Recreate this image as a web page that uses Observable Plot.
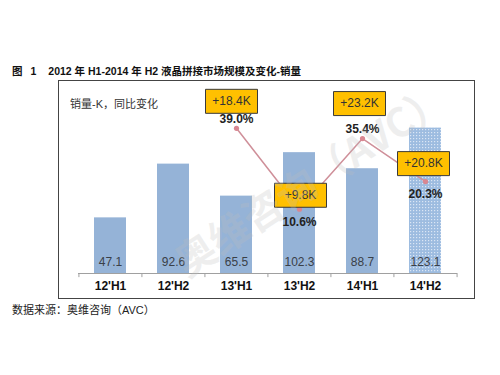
<!DOCTYPE html>
<html><head><meta charset="utf-8">
<script src="https://cdn.jsdelivr.net/npm/d3@7"></script>
<script src="https://cdn.jsdelivr.net/npm/@observablehq/plot@0.6"></script>
<style>
body{margin:0;background:#fff;font-family:"Liberation Sans",Arial,"Noto Sans CJK SC",sans-serif;}
#page{position:relative;width:500px;height:375px;overflow:hidden;}
#title{position:absolute;left:12px;top:63px;font-size:10.5px;font-weight:bold;white-space:pre;color:#111;}
#title .n{margin-left:8px;margin-right:12px;}
#frame{position:absolute;left:58px;top:80px;width:415px;height:217px;border:1px solid #444;}
#frame svg{position:absolute;left:0;top:0;}
#unit{position:absolute;left:11px;top:14px;font-size:11px;color:#333;z-index:2;}
#source{position:absolute;left:12px;top:301px;font-size:11px;color:#222;}
#wm{position:absolute;left:110px;top:153px;width:400px;line-height:50px;text-align:center;font-size:40px;font-weight:bold;color:rgba(190,190,190,0.25);transform:rotate(-33deg);font-family:"Noto Sans CJK SC",sans-serif;pointer-events:none;white-space:nowrap;}
</style></head>
<body><div id="page">
<div id="title">图<span class="n">1</span>2012 年 H1-2014 年 H2 液晶拼接市场规模及变化-销量</div>
<div id="frame"><div id="unit">销量-K，同比变化</div></div>
<div id="source">数据来源：奥维咨询（AVC）</div>
<div id="wm">奥维咨询（AVC）</div>
</div>
<script>
// ---- data ----
const categories = ["12'H1", "12'H2", "13'H1", "13'H2", "14'H1", "14'H2"];
const sales = [47.1, 92.6, 65.5, 102.3, 88.7, 123.1];
const forecastIndex = 5;
const yoyCategories = ["13'H1", "13'H2", "14'H1", "14'H2"];
const yoyPct = [39.0, 10.6, 35.4, 20.3];
const yoyDiff = ["+18.4K", "+9.8K", "+23.2K", "+20.8K"];

// ---- layout / style ----
const W = 415, H = 217, mL = 19, mR = 17, mT = 3, mB = 25;
const step = (W - mL - mR) / categories.length;
const pctSide = ["above", "below", "above", "below"];
const calloutOffset = [[-5, -27], [1, -14], [-3, -35], [-2, -18]];
// secondary (percentage) axis mapped into the bar axis units
const pctToBar = d3.scaleLinear().domain([0, 100]).range([28.8, 270.1]);

const rows = categories.map((c, i) => ({cat: c, value: sales[i], forecast: i === forecastIndex}));
const pctRows = yoyCategories.map((c, i) => ({cat: c, pct: yoyPct[i], diff: yoyDiff[i], side: pctSide[i], off: calloutOffset[i]}));

const boxSymbol = {draw(ctx) { ctx.rect(-26, -12, 52, 24); }};
const font = "Liberation Sans, Arial, sans-serif";

const chart = Plot.plot({
  width: W, height: H,
  marginLeft: mL, marginRight: mR, marginTop: mT, marginBottom: mB,
  style: {fontFamily: font, background: "transparent", overflow: "visible"},
  x: {domain: categories, paddingInner: 0.5, paddingOuter: 0.25},
  y: {domain: [0, 160], axis: null},
  marks: [
    Plot.barY(rows.filter(d => !d.forecast), {x: "cat", y: "value", fill: "#95B3D7"}),
    Plot.barY(rows.filter(d => d.forecast), {x: "cat", y: "value", fill: "url(#hatch)"}),
    Plot.text(rows, {x: "cat", y: 0, dy: -11, text: d => d.value.toFixed(1), fontSize: 12, fill: "#3a4048"}),
    Plot.ruleY([0], {stroke: "#a0a0a0"}),
    Plot.ruleX(categories, {x: d => d, dx: -step / 2, y1: 0, y2: -3.5, stroke: "#a0a0a0"}),
    Plot.ruleX([categories[categories.length - 1]], {x: d => d, dx: step / 2, y1: 0, y2: -3.5, stroke: "#a0a0a0"}),
    Plot.axisX({tickSize: 0, tickPadding: 8, fontSize: 12, fontWeight: "bold", fill: "#111", label: null}),
    Plot.line(pctRows, {x: "cat", y: d => pctToBar(d.pct), stroke: "#cf8f99", strokeWidth: 1.5}),
    Plot.dot(pctRows, {x: "cat", y: d => pctToBar(d.pct), r: 2.6, fill: "#d98792", stroke: "none"}),
    Plot.text(pctRows.filter(d => d.side === "above"), {x: "cat", y: d => pctToBar(d.pct), dy: -9, text: d => d.pct.toFixed(1) + "%", fontSize: 12, fontWeight: "bold", fill: "#222"}),
    Plot.text(pctRows.filter(d => d.side === "below"), {x: "cat", y: d => pctToBar(d.pct), dy: 13, text: d => d.pct.toFixed(1) + "%", fontSize: 12, fontWeight: "bold", fill: "#222"}),
    ...pctRows.map(d => [
      Plot.dot([d], {x: "cat", y: r => pctToBar(r.pct), dx: d.off[0], dy: d.off[1], symbol: boxSymbol, r: 5, fill: "#FFC000", stroke: "#3a3a3a", strokeWidth: 1}),
      Plot.text([d], {x: "cat", y: r => pctToBar(r.pct), dx: d.off[0], dy: d.off[1], text: "diff", fontSize: 12, fill: "#333"})
    ])
  ]
});

// hatch pattern for the forecast bar
const ns = "http://www.w3.org/2000/svg";
const defs = document.createElementNS(ns, "defs");
const pat = document.createElementNS(ns, "pattern");
pat.setAttribute("id", "hatch");
pat.setAttribute("width", "3"); pat.setAttribute("height", "3");
pat.setAttribute("patternUnits", "userSpaceOnUse");
const bg = document.createElementNS(ns, "rect");
bg.setAttribute("width", "3"); bg.setAttribute("height", "3"); bg.setAttribute("fill", "#9dbce0");
const dotEl = document.createElementNS(ns, "rect");
dotEl.setAttribute("width", "1.2"); dotEl.setAttribute("height", "1.2"); dotEl.setAttribute("fill", "#dbe6f4");
pat.appendChild(bg); pat.appendChild(dotEl); defs.appendChild(pat);
chart.insertBefore(defs, chart.firstChild);

document.getElementById("frame").appendChild(chart);
</script>
</body></html>
